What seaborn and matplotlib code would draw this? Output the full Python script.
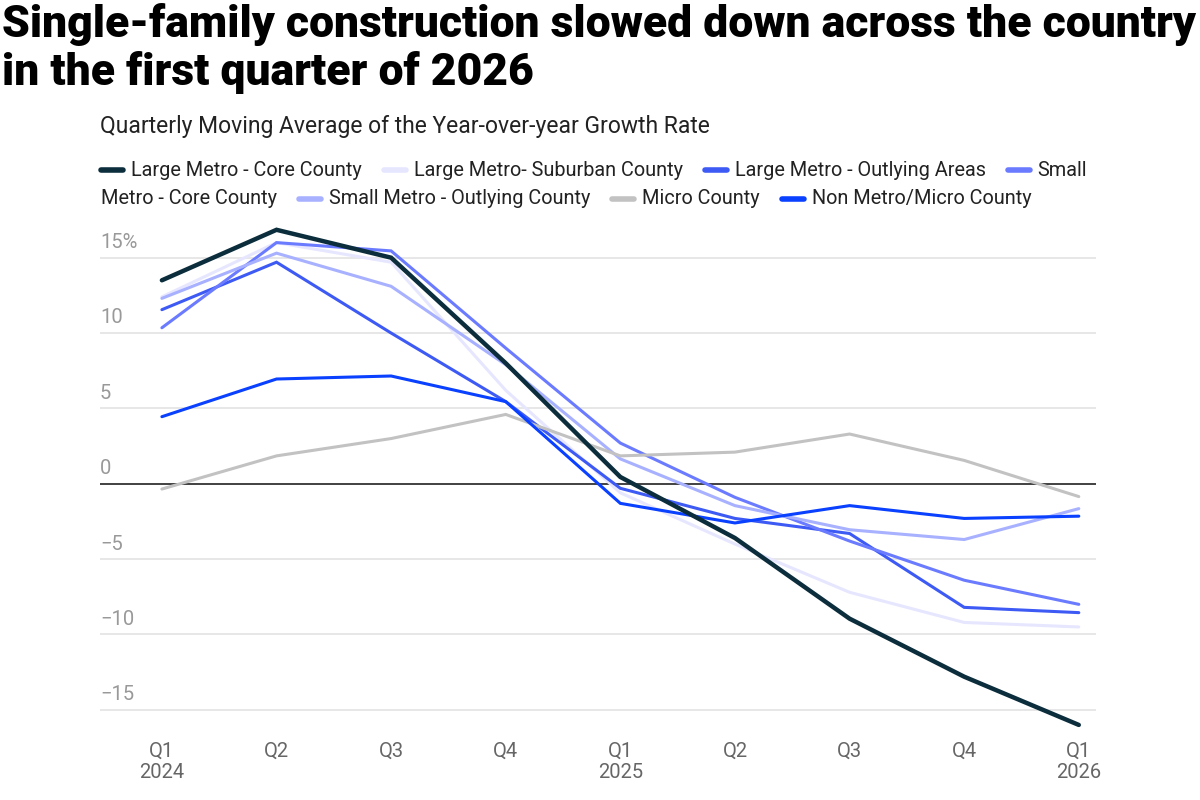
import pandas as pd
import matplotlib.pyplot as plt
import seaborn as sns
from matplotlib.lines import Line2D

# Quarterly moving average of the year-over-year growth rate (%)
quarters = ["Q1\n2024", "Q2", "Q3", "Q4", "Q1\n2025", "Q2", "Q3", "Q4", "Q1\n2026"]
series_names = [
    "Large Metro - Core County",
    "Large Metro- Suburban County",
    "Large Metro - Outlying Areas",
    "Small Metro - Core County",
    "Small Metro - Outlying County",
    "Micro County",
    "Non Metro/Micro County",
]
large_core = [13.5, 16.85, 15.0, 8.0, 0.45, -3.6, -8.95, -12.8, -16.0]
large_suburban = [12.4, 16.0, 14.7, 6.2, -0.6, -4.0, -7.2, -9.2, -9.5]
large_outlying = [11.55, 14.7, 10.0, 5.45, -0.3, -2.3, -3.3, -8.2, -8.55]
small_core = [10.35, 16.0, 15.45, 9.0, 2.7, -0.9, -3.8, -6.4, -8.0]
small_outlying = [12.3, 15.3, 13.1, 7.9, 1.65, -1.45, -3.05, -3.7, -1.65]
micro = [-0.35, 1.85, 3.0, 4.6, 1.85, 2.1, 3.3, 1.55, -0.85]
non_metro = [4.45, 6.95, 7.15, 5.45, -1.3, -2.6, -1.45, -2.3, -2.15]
y_ticks = [-15, -10, -5, 0, 5, 10, 15]

colors = ["#0b2d3c", "#e6e6ff", "#3d5af5", "#6b7bff", "#a7b1ff", "#c2c2c2", "#0a40ff"]
widths = [3.2, 2.2, 2.2, 2.2, 2.2, 2.2, 2.2]

all_values = [large_core, large_suburban, large_outlying, small_core,
              small_outlying, micro, non_metro]
df = pd.concat([
    pd.DataFrame({"x": range(len(quarters)), "value": vals, "series": name})
    for name, vals in zip(series_names, all_values)
])

sns.set_style("white")
plt.rcParams["font.family"] = ["Roboto", "DejaVu Sans"]

fig = plt.figure(figsize=(12, 8), dpi=100)
ax = fig.add_axes([100 / 1200, 1 - 740 / 800, 996 / 1200, 520 / 800])

for y in y_ticks:
    if y == 0:
        ax.axhline(0, color="#333333", lw=1.3, zorder=2)
    else:
        ax.axhline(y, color="#e3e3e3", lw=1.2, zorder=1)
    lab = f"{y}%" if y == 15 else str(y).replace("-", "\u2212")
    ax.text(0.0, y + 1.0, lab, transform=ax.get_yaxis_transform(),
            ha="left", va="center", fontsize=14.5, color="#999999")

for i, name in enumerate(series_names):
    sub = df[df["series"] == name]
    sns.lineplot(data=sub, x="x", y="value", ax=ax, color=colors[i],
                 linewidth=widths[i], zorder=10 if i == 0 else 3 + i,
                 solid_capstyle="round", solid_joinstyle="miter")

ax.set_xlim(-0.54, 8.15)
ax.set_ylim(-17.0, 17.5)
ax.set_xticks(range(len(quarters)))
ax.set_xticklabels(quarters, fontsize=14.5, color="#666666", linespacing=1.15)
ax.tick_params(axis="x", length=0, pad=1)
ax.set_yticks([])
ax.set_xlabel("")
ax.set_ylabel("")
sns.despine(ax=ax, left=True, bottom=True)

fig.text(2 / 1200, 1 - 25 / 800, "Single-family construction slowed down across the country",
         fontsize=32, fontweight="heavy", va="center", ha="left", color="#000000")
fig.text(2 / 1200, 1 - 73 / 800, "in the first quarter of 2026",
         fontsize=32, fontweight="heavy", va="center", ha="left", color="#000000")
fig.text(100 / 1200, 1 - 126 / 800, "Quarterly Moving Average of the Year-over-year Growth Rate",
         fontsize=16.5, va="center", ha="left", color="#222222")

# flowing legend with word wrap, like the web chart
renderer = fig.canvas.get_renderer()
x0, x_max = 101, 1080
row_y = [170, 199]
cx, row = x0, 0
leg_fs = 14.3
for i, name in enumerate(series_names):
    if cx + 30 > x_max:
        cx, row = x0, row + 1
    yy = 1 - row_y[row] / 800
    fig.add_artist(Line2D([cx / 1200, (cx + 22) / 1200], [yy, yy],
                          color=colors[i], lw=4, solid_capstyle="round",
                          transform=fig.transFigure))
    cx += 30
    line = ""
    for w in name.split(" "):
        trial = (line + " " + w).strip()
        t = fig.text(0, 0, trial, fontsize=leg_fs)
        wpx = t.get_window_extent(renderer).width
        t.remove()
        if cx + wpx > x_max and line:
            fig.text(cx / 1200, yy, line, fontsize=leg_fs, va="center", ha="left", color="#222222")
            cx, row = x0, row + 1
            yy = 1 - row_y[row] / 800
            line = w
        else:
            line = trial
    t = fig.text(cx / 1200, yy, line, fontsize=leg_fs, va="center", ha="left", color="#222222")
    cx += t.get_window_extent(renderer).width + 22

fig.savefig("out.png", dpi=100, facecolor="white")
